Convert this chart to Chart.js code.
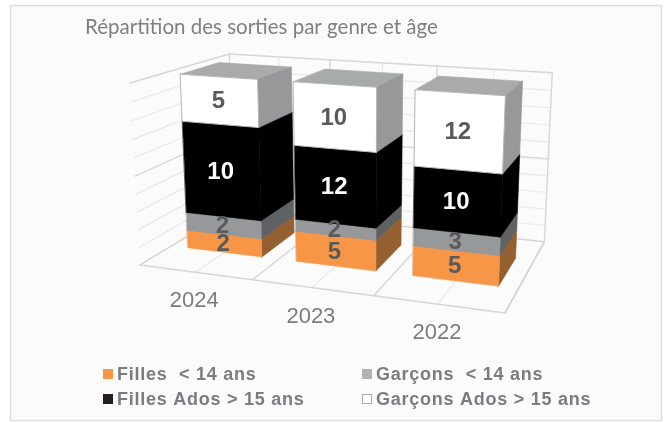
<!DOCTYPE html>
<html><head><meta charset="utf-8">
<style>html,body{margin:0;padding:0;background:#fff}#w{width:672px;height:423px;position:relative}</style>
<script src="https://cdn.jsdelivr.net/npm/chart.js@4"></script></head>
<body><div id="w"><canvas id="c" width="672" height="423"></canvas></div>
<script>
const categories = ['2024', '2023', '2022'];
const fillesMoins14 = [2, 5, 5];
const garconsMoins14 = [2, 2, 3];
const fillesAdos = [10, 12, 10];
const garconsAdos = [5, 10, 12];
const seriesLabels = ['Filles  < 14 ans', 'Garçons  < 14 ans', 'Filles Ados > 15 ans', 'Garçons Ados > 15 ans'];
const titleText = 'Répartition des sorties par genre et âge';

const allSeries = [fillesMoins14, garconsMoins14, fillesAdos, garconsAdos];
const totals = categories.map((_, i) => allSeries.reduce((s, a) => s + a[i], 0));
const pct = a => a.map((v, i) => v / totals[i] * 100);

// faces: front, side, top, label colour, legend swatch
const looks = [
  {front:'#f79646', side:'#95602f', top:'#b5763c', text:'#595a5c', swatch:'#f79646'},
  {front:'#96989a', side:'#5f6265', top:'#7a7c7e', text:'#595a5c', swatch:'#b2b2b5'},
  {front:'#000000', side:'#000000', top:'#000000', text:'#ffffff', swatch:'#231f20'},
  {front:'#ffffff', side:'#96989a', top:'#a9abab', text:'#595a5c', swatch:'#ffffff', edge:'#b4b6b7'}
];

// perspective camera of the plot box (u across, v up, w into depth, all 0..1)
const cam = {O:[140,265], X:[505,313], Y:[130,83], Z:[234,208], a:-0.11, b:-0.0438, c:0.19};
function project(u, v, w) {
  const {O, X, Y, Z, a, b, c} = cam;
  const d = 1 + a*u + b*v + c*w;
  const f = k => (O[k] + u*((1+a)*X[k]-O[k]) + v*((1+b)*Y[k]-O[k]) + w*((1+c)*Z[k]-O[k])) / d;
  return [f(0), f(1)];
}
const W0 = 0.30, W1 = 0.70;

function poly(ctx, pts, fill, stroke, lw) {
  ctx.beginPath();
  pts.forEach((p, i) => i ? ctx.lineTo(p[0], p[1]) : ctx.moveTo(p[0], p[1]));
  ctx.closePath();
  if (fill) { ctx.fillStyle = fill; ctx.fill(); }
  ctx.strokeStyle = stroke || fill; ctx.lineWidth = lw || 0.6; ctx.stroke();
}
function seg(ctx, a, b, col, lw) {
  ctx.beginPath(); ctx.moveTo(a[0], a[1]); ctx.lineTo(b[0], b[1]);
  ctx.strokeStyle = col; ctx.lineWidth = lw; ctx.stroke();
}

const scene3d = {
  id: 'scene3d',
  beforeDraw(chart) {
    const ctx = chart.ctx;
    ctx.save();
    ctx.fillStyle = '#fff'; ctx.fillRect(0, 0, 672, 423);
    ctx.fillStyle = '#fbfbfb'; ctx.fillRect(10.5, 5.5, 651, 415);
    ctx.strokeStyle = '#dedede'; ctx.lineWidth = 1.5; ctx.strokeRect(10.5, 5.5, 651, 415);
    ctx.restore();
  },
  beforeDatasetsDraw(chart) {
    const ctx = chart.ctx, area = chart.chartArea;
    const xs = chart.scales.x, ys = chart.scales.y;
    const U = px => (px - area.left) / area.width;
    const V = py => (area.bottom - py) / area.height;
    ctx.save();
    ctx.lineCap = 'round';
    const minor = '#e9e9e9', major = '#d6d6d6';
    // walls: horizontal gridlines from the value scale
    ys.ticks.forEach(t => {
      const v = V(ys.getPixelForValue(t.value));
      const col = t.value % 50 === 0 ? major : minor;
      const lw = t.value % 50 === 0 ? 1.4 : 1.2;
      if (t.value > 0) {
        seg(ctx, project(0, v, 0), project(0, v, 1), col, lw);
        seg(ctx, project(0, v, 1), project(1, v, 1), col, lw);
      }
    });
    // back wall and floor: lines from the category scale
    const half = xs.width / categories.length / 2;
    const stops = [];
    categories.forEach((_, i) => {
      const cx = xs.getPixelForValue(i);
      stops.push({u: U(cx - half), maj: true}, {u: U(cx), maj: false});
    });
    stops.push({u: 1, maj: true});
    stops.forEach(s => {
      const col = s.maj ? major : minor, lw = s.maj ? 1.4 : 1.2;
      seg(ctx, project(s.u, 0, 1), project(s.u, 1, 1), col, lw);
      seg(ctx, project(s.u, 0, 0), project(s.u, 0, 1), col, lw);
    });
    seg(ctx, project(0,0,0), project(1,0,0), major, 1.6);
    seg(ctx, project(0,0,1), project(1,0,1), major, 1.4);
    seg(ctx, project(0,0,0), project(0,0,1), major, 1.4);
    seg(ctx, project(1,0,0), project(1,0,1), major, 1.6);

    // bars: category by category, bottom to top
    const metas = chart.data.datasets.map((_, d) => chart.getDatasetMeta(d));
    categories.forEach((_, i) => {
      metas.forEach((m, d) => {
        const el = m.data[i], look = looks[d];
        const u0 = U(el.x - el.width/2), u1 = U(el.x + el.width/2);
        const v0 = V(el.base), v1 = V(el.y);
        const q = (u, v, w) => project(u, v, w);
        poly(ctx, [q(u0,v1,W0), q(u1,v1,W0), q(u1,v1,W1), q(u0,v1,W1)], look.top);
        poly(ctx, [q(u1,v0,W0), q(u1,v0,W1), q(u1,v1,W1), q(u1,v1,W0)], look.side);
        poly(ctx, [q(u0,v0,W0), q(u1,v0,W0), q(u1,v1,W0), q(u0,v1,W0)], look.front, look.edge || look.front, look.edge ? 1 : 0.6);
      });
    });
    // value labels on the front faces
    ctx.textAlign = 'center'; ctx.textBaseline = 'middle';
    ctx.font = 'bold 24px "Liberation Sans", Arial, sans-serif';
    categories.forEach((_, i) => {
      metas.forEach((m, d) => {
        const el = m.data[i];
        const p = project(U(el.x), (V(el.base) + V(el.y)) / 2, W0);
        ctx.fillStyle = looks[d].text;
        ctx.fillText(String(allSeries[d][i]), p[0] - 1, p[1] + 1);
      });
    });
    // category labels under the floor
    ctx.font = '22px "Liberation Sans", Arial, sans-serif';
    ctx.fillStyle = '#7b7c7f';
    categories.forEach((lab, i) => {
      const p = project(U(xs.getPixelForValue(i)), 0, 0);
      ctx.fillText(lab, p[0] - 1, p[1] + 29);
    });
    // legend
    ctx.textAlign = 'left'; ctx.textBaseline = 'alphabetic';
    ctx.font = 'bold 18px "Liberation Sans", Arial, sans-serif';
    if ('letterSpacing' in ctx) ctx.letterSpacing = '0.75px';
    const col = [103, 362], row = [369, 394];
    seriesLabels.forEach((lab, d) => {
      const x = col[d % 2], y = row[d >> 1], look = looks[d];
      ctx.fillStyle = look.swatch;
      ctx.fillRect(x, y, 10, 10);
      if (look.edge) { ctx.strokeStyle = '#a9abae'; ctx.lineWidth = 1; ctx.strokeRect(x + .5, y + .5, 9, 9); }
      ctx.fillStyle = '#7b7c7f';
      ctx.fillText(lab, x + 14, y + 10.5);
    });
    ctx.restore();
    return false;
  }
};

new Chart(document.getElementById('c'), {
  type: 'bar',
  data: {
    labels: categories,
    datasets: allSeries.map((a, d) => ({label: seriesLabels[d], data: pct(a), backgroundColor: looks[d].front}))
  },
  options: {
    responsive: false, animation: false,
    layout: {padding: {left: 85, right: 60, top: 15, bottom: 30}},
    datasets: {bar: {categoryPercentage: 1, barPercentage: 0.69}},
    scales: {
      x: {stacked: true, display: false},
      y: {stacked: true, display: false, min: 0, max: 100, ticks: {stepSize: 10}}
    },
    plugins: {
      legend: {display: false},
      tooltip: {enabled: false},
      title: {display: true, text: titleText, align: 'start', color: '#7f7f7f',
              font: {family: 'Lato', size: 20.5, weight: 'normal'}, padding: {top: 0, bottom: 8}}
    }
  },
  plugins: [scene3d]
});
</script></body></html>
